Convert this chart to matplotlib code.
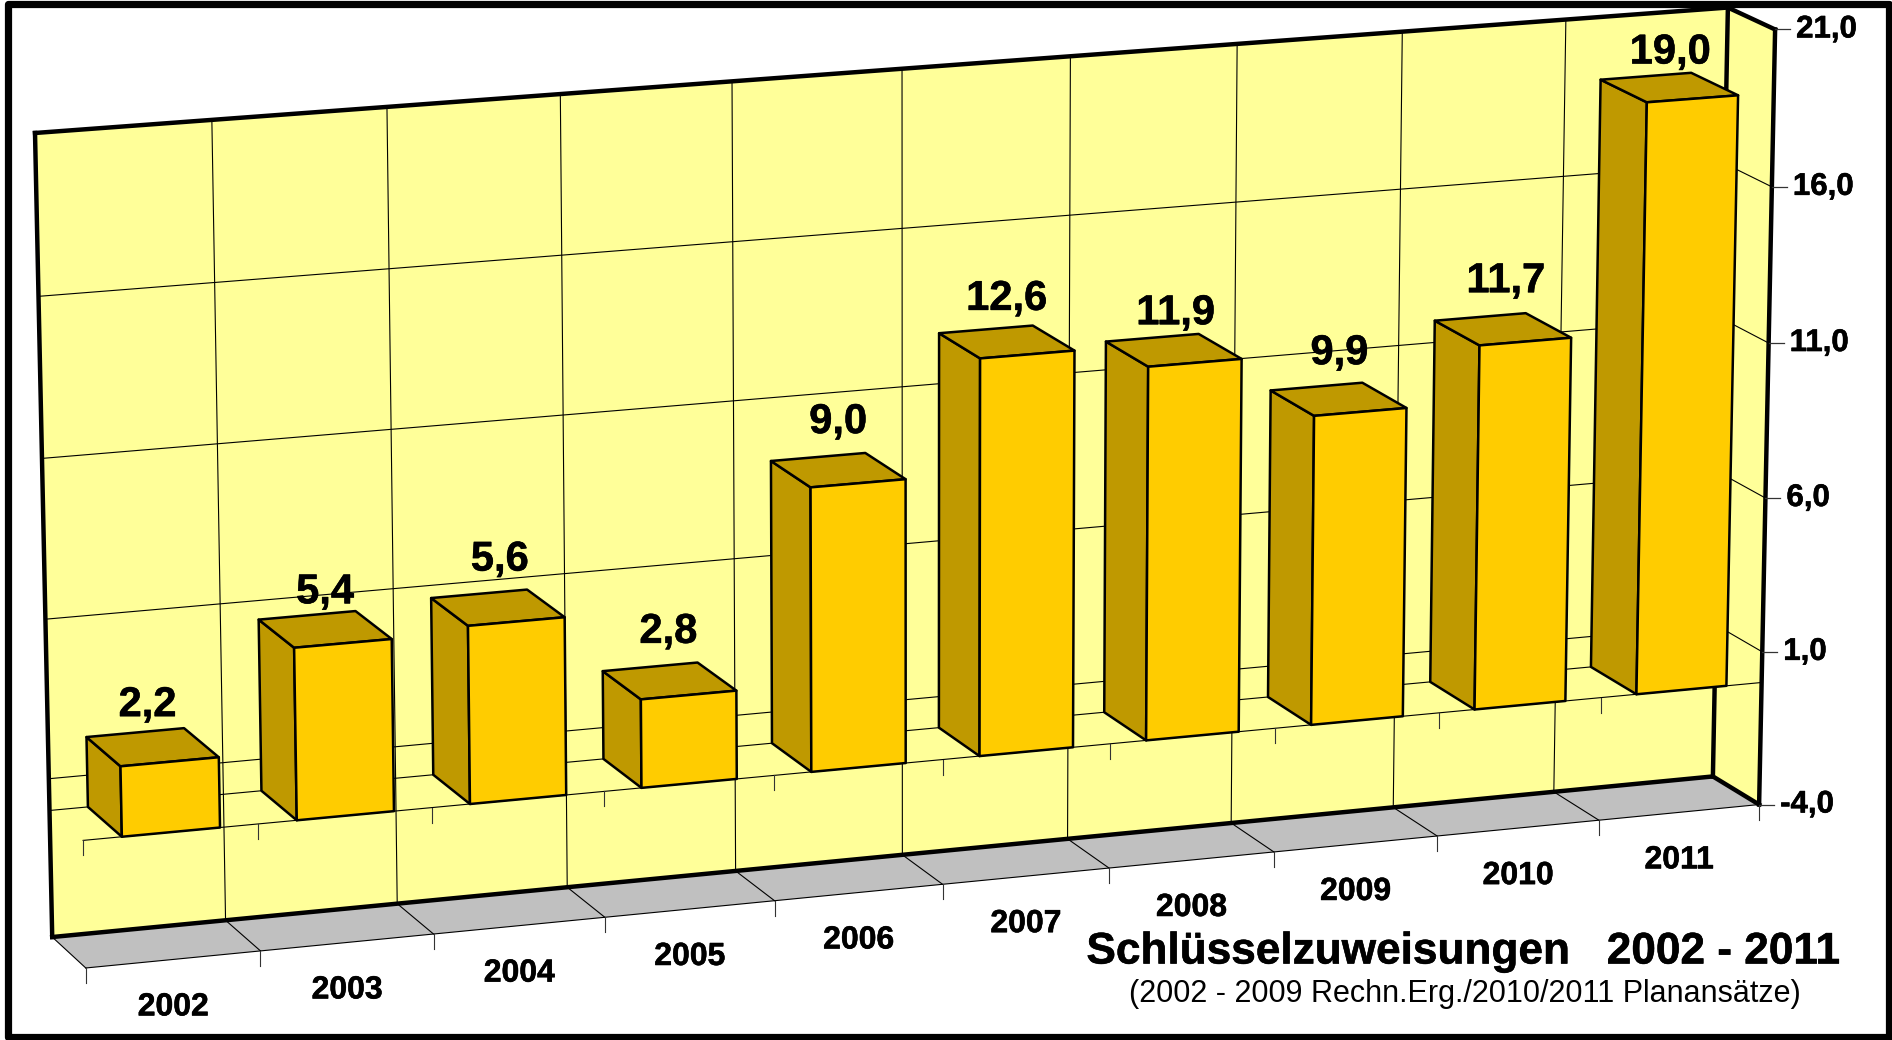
import numpy as np
import matplotlib
matplotlib.use("Agg")
import matplotlib.pyplot as plt
import matplotlib.patheffects as pe
from matplotlib.patches import Polygon, Rectangle

plt.rcParams['font.family'] = ['Liberation Sans', 'DejaVu Sans']

# Data
years = ['2002', '2003', '2004', '2005', '2006', '2007', '2008', '2009', '2010', '2011']
values = [2.2, 5.4, 5.6, 2.8, 9.0, 12.6, 11.9, 9.9, 11.7, 19.0]
value_labels = ['2,2', '5,4', '5,6', '2,8', '9,0', '12,6', '11,9', '9,9', '11,7', '19,0']
y_ticks = [-4, 1, 6, 11, 16, 21]
y_tick_labels = ['-4,0', '1,0', '6,0', '11,0', '16,0', '21,0']

Y_MIN, Y_MAX = -4, 21
X_MAX = len(years)
BAR_GAP = 0.22

# Hand placement of the value labels, in pixels from the default spot
label_dx = [-5, 0, 2, -1, 0, 0, 2, 1, 3, 1]
label_dy = [6, 11, 0, -1, 0, 5, 11, 2, 0, 13]

# Camera calibration: chart space (category, value, depth) -> pixels of the picture
chart_pts = [(0, -4, 0), (10, -4, 0), (10, 21, 0), (0, -4, 1), (10, -4, 1), (10, 21, 1), (0, 21, 1)]
pixel_pts = [(86, 968), (1759, 805), (1775, 29), (52, 937), (1713, 776), (1728, 8), (35, 133)]


def fit_camera(chart, pixel):
    rows, rhs = [], []
    for (x, y, z), (u, v) in zip(chart, pixel):
        rows.append([x, y, z, 1, 0, 0, 0, 0, -u * x, -u * y, -u * z])
        rows.append([0, 0, 0, 0, x, y, z, 1, -v * x, -v * y, -v * z])
        rhs += [u, v]
    p = np.linalg.lstsq(np.array(rows, dtype=float), np.array(rhs, dtype=float), rcond=None)[0]
    return np.append(p, 1.0).reshape(3, 4)


CAM = fit_camera(chart_pts, pixel_pts)


def proj(x, y, z):
    u, v, w = CAM @ np.array([x, y, z, 1.0])
    return u / w, v / w


def face(ax, pts, color, zorder=1):
    ax.add_patch(Polygon([proj(*p) for p in pts], closed=True, facecolor=color,
                         edgecolor='none', zorder=zorder))


def edge(ax, a, b, lw=0.8, color='black', zorder=2):
    ua, va = proj(*a)
    ub, vb = proj(*b)
    ax.plot([ua, ub], [va, vb], color=color, lw=lw, zorder=zorder, solid_capstyle='projecting')


def bold_text(ax, u, v, s, size, **kw):
    # the original face is a bit heavier than Liberation Sans Bold
    t = ax.text(u, v, s, va='center', fontsize=size, fontweight='bold', zorder=6, **kw)
    t.set_path_effects([pe.withStroke(linewidth=0.4, foreground='black')])
    return t


fig = plt.figure(figsize=(18.92, 10.4), dpi=100)
ax = fig.add_axes([0, 0, 1, 1])
ax.set_xlim(0, 1892)
ax.set_ylim(1040, 0)
ax.axis('off')

# Frame
ax.add_patch(Rectangle((7.5, 3.5), 1881, 1033, facecolor='white', edgecolor='black', lw=5.2,
                       joinstyle='round', zorder=0))

# Walls and floor
face(ax, [(0, Y_MIN, 1), (X_MAX, Y_MIN, 1), (X_MAX, Y_MAX, 1), (0, Y_MAX, 1)], '#FFFF99')
face(ax, [(X_MAX, Y_MIN, 1), (X_MAX, Y_MAX, 1), (X_MAX, Y_MAX, 0), (X_MAX, Y_MIN, 0)], '#FFFF99')
face(ax, [(0, Y_MIN, 0), (X_MAX, Y_MIN, 0), (X_MAX, Y_MIN, 1), (0, Y_MIN, 1)], '#C0C0C0')

# Grid
for i in range(1, X_MAX):
    edge(ax, (i, Y_MIN, 1), (i, Y_MAX, 1))
for i in range(0, X_MAX):
    edge(ax, (i, Y_MIN, 1), (i, Y_MIN, 0))
edge(ax, (0, Y_MIN, 0), (X_MAX, Y_MIN, 0))
for t in y_ticks[1:-1]:
    edge(ax, (0, t, 1), (X_MAX, t, 1))
    edge(ax, (X_MAX, t, 1), (X_MAX, t, 0))
edge(ax, (0, 0, 1), (X_MAX, 0, 1))

# Thick outline
THICK = 3.2
edge(ax, (0, Y_MIN, 1), (0, Y_MAX, 1), THICK)
edge(ax, (0, Y_MAX, 1), (X_MAX, Y_MAX, 1), THICK)
edge(ax, (0, Y_MIN, 1), (X_MAX, Y_MIN, 1), THICK)
edge(ax, (X_MAX, Y_MIN, 1), (X_MAX, Y_MAX, 1), THICK)
edge(ax, (X_MAX, Y_MAX, 1), (X_MAX, Y_MAX, 0), THICK)
edge(ax, (X_MAX, Y_MAX, 0), (X_MAX, Y_MIN, 0), THICK)
edge(ax, (X_MAX, Y_MIN, 0), (X_MAX, Y_MIN, 1), THICK)

# Zero line in the front plane, ticks on it and on the floor
edge(ax, (0, 0, 0), (X_MAX, 0, 0), zorder=3)
for i in range(X_MAX + 1):
    u, v = proj(i, Y_MIN, 0)
    ax.plot([u, u], [v, v + 15], color='#333333', lw=0.8, zorder=2)
for i in range(X_MAX):
    u, v = proj(i, 0, 0)
    ax.plot([u, u], [v, v + 15], color='#333333', lw=0.8, zorder=3)

# Bars
for i, val in enumerate(values):
    x0, x1 = i + BAR_GAP, i + 1 - BAR_GAP
    zo = 4 + i * 0.01
    sides = [
        ([(x0, 0, 1), (x0, val, 1), (x0, val, 0), (x0, 0, 0)], '#BF9900'),
        ([(x0, val, 1), (x1, val, 1), (x1, val, 0), (x0, val, 0)], '#BF9900'),
        ([(x0, 0, 0), (x1, 0, 0), (x1, val, 0), (x0, val, 0)], '#FFCC00'),
    ]
    for pts, col in sides:
        ax.add_patch(Polygon([proj(*p) for p in pts], closed=True, facecolor=col,
                             edgecolor='black', lw=1.8, joinstyle='round', zorder=zo))
    u, v = proj(i + 0.5, val, 0.5)
    bold_text(ax, u + label_dx[i], v - 48 + label_dy[i], value_labels[i], 30, ha='center')

# Category labels
for i, year in enumerate(years):
    u, v = proj(i + 0.5, Y_MIN, 0)
    bold_text(ax, u, v + 48, year, 23, ha='center')

# Value axis
for t, lab in zip(y_ticks, y_tick_labels):
    u, v = proj(X_MAX, t, 0)
    ax.plot([u, u + 15], [v, v], color='#333333', lw=0.9, zorder=2)
    bold_text(ax, u + 21, v, lab, 22.5, ha='left')

# Title
bold_text(ax, 1463, 952, 'Schlüsselzuweisungen   2002 - 2011', 31.8, ha='center')
ax.text(1465, 994, '(2002 - 2009 Rechn.Erg./2010/2011 Planansätze)', ha='center', va='center',
        fontsize=22, zorder=6)

fig.savefig('out.png', dpi=100)
